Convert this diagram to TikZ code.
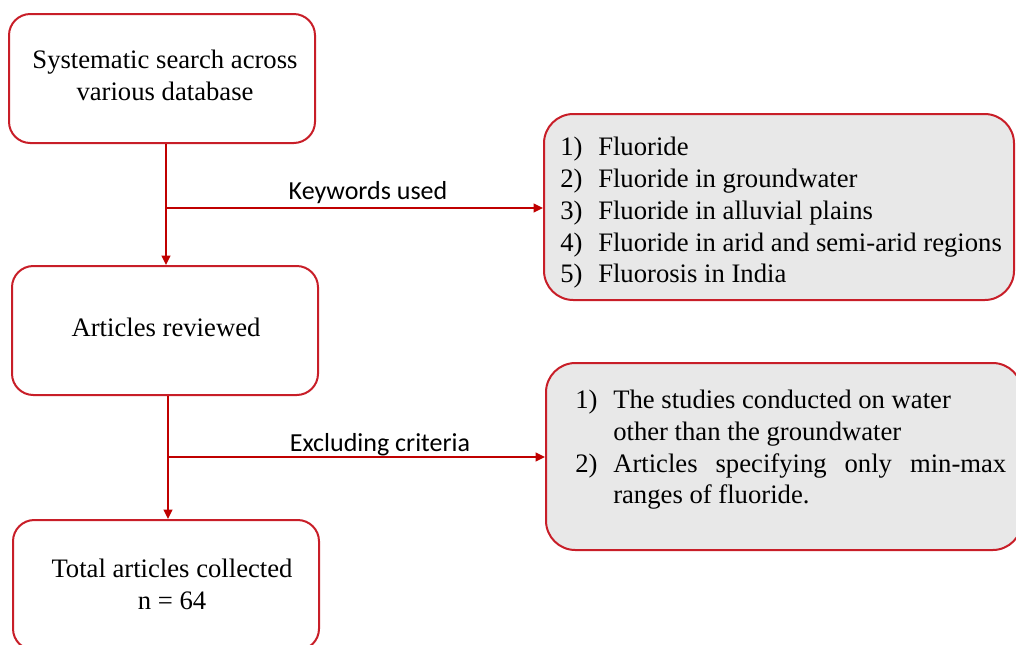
\documentclass[tikz,border=0pt]{standalone}
\usepackage{fontspec}
\setmainfont{Liberation Serif}
\newfontfamily\calib{Carlito}
\usetikzlibrary{arrows.meta}
\definecolor{arrred}{RGB}{192,0,0}
\definecolor{boxred}{RGB}{200,30,40}
\definecolor{boxgrey}{RGB}{232,232,232}
\begin{document}
\begin{tikzpicture}[x=0.75pt,y=-0.75pt,
  whitebox/.style={draw=boxred,line width=1.5pt,rounded corners=16pt,minimum width=229.5pt,minimum height=96.75pt,inner sep=0pt},
  greybox/.style={draw=boxred,fill=boxgrey,line width=1.5pt,rounded corners=22pt,inner sep=0pt},
  txt/.style={font=\fontsize{20pt}{24pt}\selectfont,anchor=base,inner sep=0pt},
  ltxt/.style={txt,anchor=base west},
  lab/.style={font=\calib\fontsize{19.5pt}{23pt}\selectfont,anchor=base,inner sep=0pt},
  arr/.style={draw=arrred,line width=1.5pt,-{Triangle[length=7pt,width=6.5pt]}}]
\useasboundingbox (0,0) rectangle (1016,644);
\clip (0,0) rectangle (1016,644);
% boxes
\node[whitebox] (search) at (162,78.5) {};
\node[whitebox] (reviewed) at (165,330.5) {};
\node[whitebox,minimum height=97.5pt] (total) at (166,585) {};
\node[greybox,minimum width=352.5pt,minimum height=139.5pt] (keys) at (779,207) {};
\node[greybox,minimum width=357pt,minimum height=140.25pt] (excl) at (784,456.5) {};
% box texts
\node[txt] (s1) at (165,68.5) {Systematic search across};
\node[txt] (s2) at (165,100.5) {various database};
\node[txt] (r1) at (166,336.5) {Articles reviewed};
\node[txt] (t1) at (172,577.5) {Total articles collected};
\node[txt] (t2) at (172,609.5) {n = 64};
% keyword list
\node[ltxt] (k1) at (560,155.5) {\makebox[28.5pt][l]{1)}Fluoride};
\node[ltxt] (k2) at (560,187.5) {\makebox[28.5pt][l]{2)}Fluoride in groundwater};
\node[ltxt] (k3) at (560,219.5) {\makebox[28.5pt][l]{3)}Fluoride in alluvial plains};
\node[ltxt] (k4) at (560,251.5) {\makebox[28.5pt][l]{4)}Fluoride in arid and semi-arid regions};
\node[ltxt] (k5) at (560,282.5) {\makebox[28.5pt][l]{5)}Fluorosis in India};
% exclusion list
\node[ltxt] (e1) at (575,408.5) {\makebox[28.5pt][l]{1)}The studies conducted on water};
\node[ltxt] (e1b) at (613,440.5) {other than the groundwater};
\node[ltxt] (e2) at (575,472.5) {\makebox[28.5pt][l]{2)}\makebox[294.75pt][s]{Articles specifying only min-max}};
\node[ltxt] (e2b) at (613,503.5) {ranges of fluoride.};
% connectors
\coordinate (j1) at (166,208);
\coordinate (j2) at (168,457);
\draw[arr] (search.south -| j1) -- (reviewed.north -| j1);
\draw[arr] (j1) -- (keys.west |- j1);
\node[lab] (kw) at (368,199) {Keywords used};
\draw[arr] (reviewed.south -| j2) -- (total.north -| j2);
\draw[arr] (j2) -- (excl.west |- j2);
\node[lab] (ex) at (380,451) {Excluding criteria};
\end{tikzpicture}
\end{document}
